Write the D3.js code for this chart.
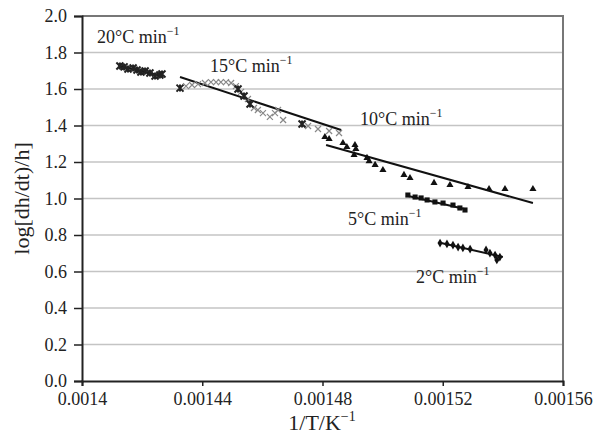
<!DOCTYPE html>
<html>
<head>
<meta charset="utf-8">
<script src="https://cdn.jsdelivr.net/npm/d3@7"></script>
<style>
    body { margin: 0; background: #fff; }
    text { font-family: "Liberation Serif", "DejaVu Serif", serif; fill: #222; }
</style>
</head>
<body>
<div id="chart"></div>
<script>
(function() {
    'use strict';

    var xTicks = [0.0014, 0.00144, 0.00148, 0.00152, 0.00156];
    var xTickLabels = ['0.0014', '0.00144', '0.00148', '0.00152', '0.00156'];
    var yTicks = [0, 0.2, 0.4, 0.6, 0.8, 1.0, 1.2, 1.4, 1.6, 1.8, 2.0];

    // 20 C/min
    var rate20X = [0.0014126, 0.0014140, 0.0014153, 0.0014170, 0.0014183, 0.0014196, 0.0014210, 0.0014226, 0.0014243, 0.0014259, 0.0014266];
    var rate20Y = [1.726, 1.721, 1.710, 1.715, 1.704, 1.693, 1.699, 1.688, 1.671, 1.677, 1.682];
    var rate20Fit = [[0.0014120, 1.728], [0.0014270, 1.670]];

    // 15 C/min
    var rate15X = [0.0014326, 0.0014346, 0.0014366, 0.0014386, 0.0014409, 0.0014429, 0.0014446, 0.0014462, 0.0014479, 0.0014496,
                   0.0014512, 0.0014519, 0.0014529, 0.0014539, 0.0014552, 0.0014559, 0.0014572, 0.0014585, 0.0014602, 0.0014625,
                   0.0014642, 0.0014652, 0.0014669, 0.0014732, 0.0014752, 0.0014785, 0.0014822, 0.0014855];
    var rate15Y = [1.605, 1.616, 1.622, 1.627, 1.633, 1.638, 1.638, 1.638, 1.638, 1.633,
                   1.616, 1.600, 1.584, 1.562, 1.545, 1.518, 1.496, 1.485, 1.468, 1.447,
                   1.468, 1.485, 1.430, 1.408, 1.397, 1.381, 1.370, 1.359];
    var rate15Dark = [0, 11, 13, 15, 23];
    var rate15Fit = [[0.0014326, 1.666], [0.0014862, 1.375]];

    // 10 C/min
    var rate10X = [0.0014808, 0.0014822, 0.0014868, 0.0014881, 0.0014908, 0.0014911, 0.0014905, 0.0014948, 0.0014955, 0.0014975,
                   0.0015001, 0.0015071, 0.0015091, 0.0015171, 0.0015224, 0.0015284, 0.0015354, 0.0015407, 0.0015500];
    var rate10Y = [1.337, 1.326, 1.304, 1.282, 1.293, 1.271, 1.238, 1.222, 1.205, 1.184,
                   1.156, 1.129, 1.112, 1.085, 1.074, 1.063, 1.052, 1.052, 1.052];
    var rate10Fit = [[0.0014812, 1.293], [0.0015500, 0.975]];

    // 5 C/min
    var rate5X = [0.0015084, 0.0015108, 0.0015128, 0.0015148, 0.0015174, 0.0015201, 0.0015234, 0.0015257, 0.0015274];
    var rate5Y = [1.019, 1.008, 1.003, 0.992, 0.981, 0.975, 0.964, 0.948, 0.937];
    var rate5Fit = [[0.0015078, 1.016], [0.0015280, 0.940]];

    // 2 C/min
    var rate2X = [0.0015191, 0.0015214, 0.0015234, 0.0015251, 0.0015267, 0.0015291, 0.0015344, 0.0015357, 0.0015374, 0.0015380, 0.0015390];
    var rate2Y = [0.756, 0.751, 0.745, 0.734, 0.729, 0.723, 0.718, 0.701, 0.690, 0.663, 0.679];
    var rate2Fit = [[0.0015191, 0.757], [0.0015400, 0.680]];

    var rateLabels = ['20°C min', '15°C min', '10°C min', '5°C min', '2°C min'];
    var labelX = [0.001405, 0.0014426, 0.0014925, 0.0014885, 0.0015111];
    var labelY = [1.852, 1.693, 1.403, 0.855, 0.537];

    var width = 601,
        height = 439,
        margin = {top: 16, right: 38, bottom: 58, left: 82};

    var x = d3.scaleLinear()
        .domain([0.0014, 0.00156])
        .range([margin.left, width - margin.right]);

    var y = d3.scaleLinear()
        .domain([0, 2])
        .range([height - margin.bottom, margin.top]);

    var svg = d3.select('#chart').append('svg')
        .attr('width', width)
        .attr('height', height);

    // grid
    svg.append('g')
        .selectAll('line')
        .data(yTicks.slice(1))
      .enter().append('line')
        .attr('x1', margin.left)
        .attr('x2', width - margin.right)
        .attr('y1', function(d) { return y(d); })
        .attr('y2', function(d) { return y(d); })
        .attr('stroke', '#c4c4c4')
        .attr('stroke-width', 1.5);

    // top / right frame
    svg.append('path')
        .attr('d', 'M' + margin.left + ',' + y(2) + 'H' + x(0.00156) + 'V' + y(0))
        .attr('fill', 'none')
        .attr('stroke', '#777')
        .attr('stroke-width', 2);

    var xAxis = svg.append('g')
        .attr('transform', 'translate(0,' + y(0) + ')')
        .call(d3.axisBottom(x)
            .tickValues(xTicks)
            .tickFormat(function(d, i) { return xTickLabels[i]; })
            .tickSizeOuter(0)
            .tickSize(5)
            .tickPadding(6));

    var yAxis = svg.append('g')
        .attr('transform', 'translate(' + margin.left + ',0)')
        .call(d3.axisLeft(y)
            .tickValues(yTicks)
            .tickFormat(d3.format('.1f'))
            .tickSizeOuter(0)
            .tickSize(8)
            .tickPadding(7));

    [xAxis, yAxis].forEach(function(a) {
        a.select('.domain').attr('stroke', '#222').attr('stroke-width', 2);
        a.selectAll('.tick line').attr('stroke', '#222').attr('stroke-width', 1.5);
        a.selectAll('.tick text')
            .attr('font-family', '"Liberation Serif", serif')
            .attr('font-size', 18)
            .attr('fill', '#222');
    });

    // axis titles
    var xt = svg.append('text')
        .attr('x', 322)
        .attr('y', 430)
        .attr('text-anchor', 'middle')
        .attr('font-size', 22);
    xt.append('tspan').text('1/T/K');
    xt.append('tspan').attr('font-size', 14).attr('dy', -9).text('−1');

    svg.append('text')
        .attr('transform', 'translate(29,' + ((margin.top + height - margin.bottom) / 2) + ') rotate(-90)')
        .attr('text-anchor', 'middle')
        .attr('font-size', 22)
        .text('log[dh/dt)/h]');

    function pts(xs, ys) {
        return xs.map(function(v, i) { return {x: v, y: ys[i], i: i}; });
    }

    function fitLine(fit) {
        svg.append('line')
            .attr('x1', x(fit[0][0]))
            .attr('y1', y(fit[0][1]))
            .attr('x2', x(fit[1][0]))
            .attr('y2', y(fit[1][1]))
            .attr('stroke', '#111')
            .attr('stroke-width', 2);
    }

    function asterisk(g, d, s, color) {
        var p = 'M' + (-s) + ',' + (-s) + 'L' + s + ',' + s + 'M' + s + ',' + (-s) + 'L' + (-s) + ',' + s +
                'M0,' + (-s) + 'V' + s;
        g.append('path')
            .attr('transform', 'translate(' + x(d.x) + ',' + y(d.y) + ')')
            .attr('d', p)
            .attr('fill', 'none')
            .attr('stroke', color)
            .attr('stroke-width', 2);
    }

    // lines first
    [rate20Fit, rate15Fit, rate10Fit, rate5Fit, rate2Fit].forEach(fitLine);

    // 20
    var g20 = svg.append('g');
    pts(rate20X, rate20Y).forEach(function(d) { asterisk(g20, d, 3.5, '#222'); });

    // 15 - light crosses, some dark ones
    var g15 = svg.append('g');
    g15.selectAll('path')
        .data(pts(rate15X, rate15Y))
      .enter().append('path')
        .attr('transform', function(d) { return 'translate(' + x(d.x) + ',' + y(d.y) + ')'; })
        .attr('d', 'M-3,-3L3,3M3,-3L-3,3')
        .attr('fill', 'none')
        .attr('stroke', '#888')
        .attr('stroke-width', 1.2);
    pts(rate15X, rate15Y).filter(function(d) { return rate15Dark.indexOf(d.i) >= 0; })
        .forEach(function(d) { asterisk(g15, d, 3.5, '#222'); });

    // 10 - triangles
    svg.append('g')
        .selectAll('path')
        .data(pts(rate10X, rate10Y))
      .enter().append('path')
        .attr('transform', function(d) { return 'translate(' + x(d.x) + ',' + y(d.y) + ')'; })
        .attr('d', d3.symbol().type(d3.symbolTriangle).size(22))
        .attr('fill', '#111');

    // 5 - squares
    svg.append('g')
        .selectAll('path')
        .data(pts(rate5X, rate5Y))
      .enter().append('path')
        .attr('transform', function(d) { return 'translate(' + x(d.x) + ',' + y(d.y) + ')'; })
        .attr('d', d3.symbol().type(d3.symbolSquare).size(26))
        .attr('fill', '#111');

    // 2 - diamonds
    svg.append('g')
        .selectAll('path')
        .data(pts(rate2X, rate2Y))
      .enter().append('path')
        .attr('transform', function(d) { return 'translate(' + x(d.x) + ',' + y(d.y) + ')'; })
        .attr('d', d3.symbol().type(d3.symbolDiamond).size(22))
        .attr('fill', '#111');

    // rate labels
    var lab = svg.append('g')
        .selectAll('text')
        .data(rateLabels)
      .enter().append('text')
        .attr('x', function(d, i) { return x(labelX[i]); })
        .attr('y', function(d, i) { return y(labelY[i]); })
        .attr('font-size', 18);
    lab.append('tspan').text(function(d) { return d; });
    lab.append('tspan').attr('font-size', 12).attr('dy', -8).text('−1');
})();
</script>
</body>
</html>
